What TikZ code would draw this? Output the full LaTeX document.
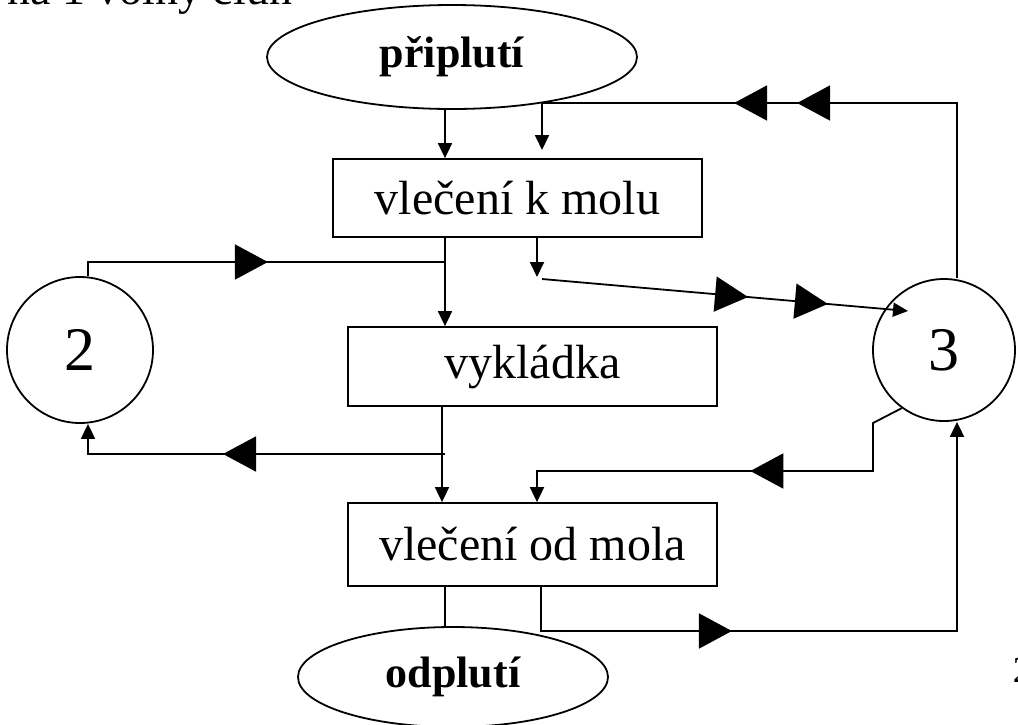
\documentclass[tikz,border=0pt]{standalone}
\usepackage{fontspec}
\setmainfont{Liberation Serif}
\usetikzlibrary{shapes.geometric, arrows.meta, decorations.markings}

\tikzset{bigtip/.tip={Triangle[length=33pt, width=35pt]}}

\begin{document}
\begin{tikzpicture}[x=1pt, y=-1pt, line width=1.8pt,
  stage/.style={draw, rectangle, minimum width=369pt, minimum height=78pt, font=\fontsize{48}{56}\selectfont},
  term/.style={draw, ellipse, inner sep=0pt, font=\fontsize{44}{52}\selectfont\bfseries},
  queue/.style={draw, circle, inner sep=0pt, minimum size=146pt, font=\fontsize{62}{70}\selectfont},
  flow/.style={-{Triangle[length=15pt, width=14pt]}},
  midtip/.style={postaction={decorate, decoration={markings, mark=at position #1 with {\arrow{bigtip}}}}}]
  \useasboundingbox (0,0) rectangle (1018,724);

  % ship flow
  \node[term, minimum width=370pt, minimum height=104pt] (pripl) at (452,57) {připlutí};
  \node[stage] (vlecK) at (517.5,198) {vlečení k molu};
  \node[stage, minimum height=79pt] (vyklad) at (532.5,366.5) {vykládka};
  \node[stage, minimum height=83pt] (vlecOd) at (532.5,544.5) {vlečení od mola};
  \node[term, minimum width=310pt, minimum height=100pt] (odpl) at (453,677) {odplutí};

  % tug queues
  \node[queue] (q2) at (80,350) {2};
  \node[queue, minimum size=142pt] (q3) at (944,350) {3};

  \node[anchor=base east, inner sep=0pt, font=\fontsize{46}{52}\selectfont] (title) at (293,4) {na 1 volný člun};
  \node[anchor=base west, inner sep=0pt, font=\fontsize{37}{42}\selectfont] (pageno) at (1012,682) {2};

  \coordinate (mainx) at (445,0);
  \coordinate (rtop) at (957,103);
  \coordinate (ltop) at (542,103);
  \coordinate (lhi) at (88,262);
  \coordinate (jhi) at (445,262);
  \coordinate (drop) at (537,277);
  \coordinate (dstart) at (542,279);
  \coordinate (dend) at (908,311);
  \coordinate (jlo) at (445,454);
  \coordinate (llo) at (88,454);
  \coordinate (kink) at (873,423);
  \coordinate (rmid) at (873,471);
  \coordinate (cmid) at (537,471);
  \coordinate (blo) at (541,631);
  \coordinate (rlo) at (957,631);

  % main line
  \draw[flow] (pripl.south -| mainx) -- (vlecK.north -| mainx);
  \draw[flow] (vlecK.south -| mainx) -- (vyklad.north -| mainx);
  \draw[flow] (vyklad.south -| 442,0) -- (vlecOd.north -| 442,0);
  \draw (vlecOd.south -| mainx) -- (odpl.north -| mainx);

  % tug 3 back to arrival
  \draw[flow, midtip=335pt, midtip=398pt] (q3.north -| rtop) -- (rtop) -- (ltop) -- (ltop |- 0,150);
  % tug 2 loop
  \draw[midtip=194pt] (q2.north -| lhi) -- (lhi) -- (jhi);
  \draw[flow, midtip=222pt] (jlo) -- (llo) -- (q2.south -| llo);
  % released tug to 3
  \draw[flow] (vlecK.south -| drop) -- (drop);
  \draw[flow, midtip=0.563, midtip=0.781] (dstart) -- (dend);
  % tug 3 to departure
  \draw[flow, midtip=203pt] (q3.234) -- (kink) -- (rmid) -- (cmid) -- (vlecOd.north -| cmid);
  \draw[flow, midtip=235pt] (vlecOd.south -| blo) -- (blo) -- (rlo) -- (q3.south -| rlo);
\end{tikzpicture}
\end{document}
